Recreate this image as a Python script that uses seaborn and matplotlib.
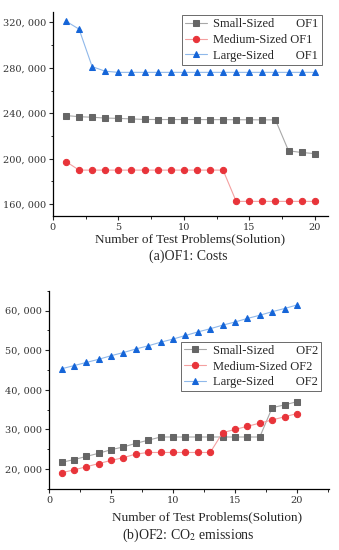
import matplotlib
matplotlib.use("Agg")
import matplotlib.pyplot as plt
import seaborn as sns
from matplotlib.ticker import FuncFormatter, MultipleLocator

# datos
problems = list(range(1, 21))

small_of1 = [238000, 237000, 236500, 235800, 235500, 235000, 234600, 234500, 234500, 234500,
             234500, 234400, 234400, 234300, 234300, 234200, 234200, 207000, 205500, 204500]
medium_of1 = [197500, 190000, 190000, 190000, 190000, 190000, 190000, 190000, 190000, 190000,
              190000, 190000, 190000, 162500, 162500, 162500, 162500, 162500, 162500, 162500]
large_of1 = [321000, 314000, 281000, 277000, 276000, 276000, 276000, 276000, 276000, 276000,
             276000, 276000, 276000, 276000, 276000, 276000, 276000, 276000, 276000, 276000]

small_of2 = [21700, 22400, 23200, 24000, 24900, 25600, 26500, 27300, 28100, 28100,
             28100, 28100, 28100, 28100, 28100, 28100, 28100, 35500, 36200, 37000]
medium_of2 = [19100, 19800, 20600, 21400, 22200, 22900, 23800, 24200, 24200, 24200,
              24200, 24200, 24200, 29200, 30000, 30800, 31600, 32400, 33200, 34000]
large_of2 = [45300, 46100, 46900, 47700, 48600, 49400, 50300, 51100, 52000, 52800,
             53700, 54600, 55400, 56300, 57100, 58000, 58800, 59700, 60500, 61400]

labels_of1 = ["Small-Sized       OF1", "Medium-Sized OF1", "Large-Sized       OF1"]
labels_of2 = ["Small-Sized       OF2", "Medium-Sized OF2", "Large-Sized       OF2"]

sns.set_style("ticks")
plt.rcParams['font.family'] = ['Liberation Serif', 'DejaVu Serif']
plt.rcParams['mathtext.fontset'] = 'stix'

estilos = [
    dict(marker="s", color="#a8a8a8", markerfacecolor="#666666", markeredgecolor="#666666"),
    dict(marker="o", color="#f4a0a0", markerfacecolor="#e8343a", markeredgecolor="#e8343a"),
    dict(marker="^", color="#8fb8ea", markerfacecolor="#1565d8", markeredgecolor="#1565d8"),
]

fig = plt.figure(figsize=(3.39, 5.5), dpi=100)
ax1 = fig.add_axes([0.156, 0.607, 0.811, 0.371])
ax2 = fig.add_axes([0.145, 0.111, 0.826, 0.3605])

fmt = FuncFormatter(lambda v, p: f"{int(v):,}".replace(",", ", "))


def dibujar(ax, series, labels):
    for s, lab, est in zip(series, labels, estilos):
        sns.lineplot(x=problems, y=s, ax=ax, label=lab, linewidth=0.8,
                     markersize=4.5, **est)
    sns.despine(ax=ax)
    for sp in ["left", "bottom"]:
        ax.spines[sp].set_linewidth(0.9)
        ax.spines[sp].set_color("black")
    ax.xaxis.set_major_locator(MultipleLocator(5))
    ax.xaxis.set_minor_locator(MultipleLocator(2.5))
    ax.yaxis.set_major_formatter(fmt)
    ax.tick_params(which="major", length=3, width=0.8, labelsize=7, pad=2)
    ax.tick_params(which="minor", length=1.8, width=0.7)


def leyenda(ax, anchor):
    leg = ax.legend(loc="upper right", bbox_to_anchor=anchor, fontsize=9, frameon=True,
                    fancybox=False, edgecolor="#444444", handlelength=1.8, borderpad=0.25,
                    labelspacing=0.3, handletextpad=0.5, borderaxespad=0)
    leg.get_frame().set_linewidth(0.7)


def fuente_ticks(ax):
    for t in ax.get_xticklabels() + ax.get_yticklabels():
        t.set_family("DejaVu Serif")
        t.set_color("#333333")


dibujar(ax1, [small_of1, medium_of1, large_of1], labels_of1)
ax1.set_xlim(0, 21)
ax1.set_ylim(149500, 329000)
ax1.set_yticks([160000, 200000, 240000, 280000, 320000])
ax1.yaxis.set_minor_locator(MultipleLocator(20000))
fuente_ticks(ax1)
leyenda(ax1, (0.978, 0.985))

dibujar(ax2, [small_of2, medium_of2, large_of2], labels_of2)
ax2.set_xlim(0, 22.6)
ax2.set_ylim(15000, 65000)
ax2.set_yticks([20000, 30000, 40000, 50000, 60000])
ax2.yaxis.set_minor_locator(MultipleLocator(5000))
fuente_ticks(ax2)
leyenda(ax2, (0.971, 0.743))

fig.text(190 / 339, 1 - 239 / 550, "Number of Test Problems(Solution)", ha="center", va="center", fontsize=9.5)
fig.text(188 / 339, 1 - 256 / 550, "(a)OF1: Costs", ha="center", va="center", fontsize=10)
fig.text(207 / 339, 1 - 517 / 550, "Number of Test Problems(Solution)", ha="center", va="center", fontsize=9.5)
fig.text(188 / 339, 1 - 535 / 550, "(b)OF2: CO$_2$ emissions", ha="center", va="center", fontsize=10)

fig.savefig("out.png", dpi=100)
